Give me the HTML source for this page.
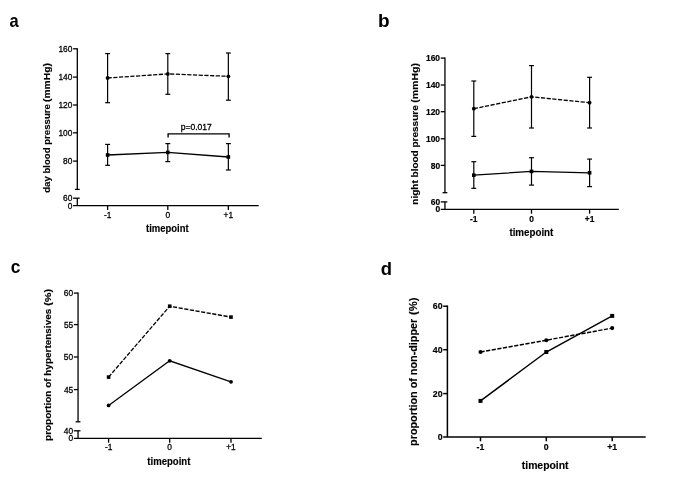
<!DOCTYPE html><html><head><meta charset="utf-8"><style>html,body{margin:0;padding:0;background:#fff}svg{display:block;will-change:transform}</style></head><body>
<svg width="685" height="491" viewBox="0 0 685 491" font-family="Liberation Sans, sans-serif">
<text transform="translate(9.52 27.10) scale(0.9417 1)" font-size="17.5" font-weight="bold" fill="#000">a</text>
<line x1="77.30" y1="48.15" x2="77.30" y2="189.40" stroke="#000" stroke-width="1.3"/>
<line x1="74.90" y1="189.40" x2="79.70" y2="189.40" stroke="#000" stroke-width="1.3"/>
<line x1="77.30" y1="198.20" x2="77.30" y2="205.70" stroke="#000" stroke-width="1.3"/>
<line x1="73.10" y1="198.20" x2="79.70" y2="198.20" stroke="#000" stroke-width="1.3"/>
<line x1="73.10" y1="205.70" x2="258.70" y2="205.70" stroke="#000" stroke-width="1.3"/>
<line x1="73.10" y1="48.80" x2="77.30" y2="48.80" stroke="#000" stroke-width="1.3"/>
<text transform="translate(58.46 52.00) scale(0.8900 1)" font-size="9.4" stroke="#000" stroke-width="0.3" fill="#000">160</text>
<line x1="73.10" y1="77.10" x2="77.30" y2="77.10" stroke="#000" stroke-width="1.3"/>
<text transform="translate(58.46 80.30) scale(0.8900 1)" font-size="9.4" stroke="#000" stroke-width="0.3" fill="#000">140</text>
<line x1="73.10" y1="105.00" x2="77.30" y2="105.00" stroke="#000" stroke-width="1.3"/>
<text transform="translate(58.46 108.20) scale(0.8900 1)" font-size="9.4" stroke="#000" stroke-width="0.3" fill="#000">120</text>
<line x1="73.10" y1="132.80" x2="77.30" y2="132.80" stroke="#000" stroke-width="1.3"/>
<text transform="translate(58.46 136.00) scale(0.8900 1)" font-size="9.4" stroke="#000" stroke-width="0.3" fill="#000">100</text>
<line x1="73.10" y1="161.10" x2="77.30" y2="161.10" stroke="#000" stroke-width="1.3"/>
<text transform="translate(63.11 164.30) scale(0.8900 1)" font-size="9.4" stroke="#000" stroke-width="0.3" fill="#000">80</text>
<text transform="translate(63.11 201.00) scale(0.8900 1)" font-size="9.4" stroke="#000" stroke-width="0.3" fill="#000">60</text>
<text transform="translate(67.77 208.70) scale(0.8900 1)" font-size="9.4" stroke="#000" stroke-width="0.3" fill="#000">0</text>
<line x1="107.60" y1="205.70" x2="107.60" y2="210.00" stroke="#000" stroke-width="1.3"/>
<text transform="translate(103.88 217.60) scale(0.8900 1)" font-size="9.4" stroke="#000" stroke-width="0.3" fill="#000">-1</text>
<line x1="167.80" y1="205.70" x2="167.80" y2="210.00" stroke="#000" stroke-width="1.3"/>
<text transform="translate(165.47 217.60) scale(0.8900 1)" font-size="9.4" stroke="#000" stroke-width="0.3" fill="#000">0</text>
<line x1="228.35" y1="205.70" x2="228.35" y2="210.00" stroke="#000" stroke-width="1.3"/>
<text transform="translate(223.58 217.60) scale(0.8900 1)" font-size="9.4" stroke="#000" stroke-width="0.3" fill="#000">+1</text>
<text transform="translate(50.40 192.79) rotate(-90) scale(0.9716 1)" font-size="9.9" font-weight="bold" stroke="#000" stroke-width="0.15" fill="#000">day blood pressure</text>
<text transform="translate(50.40 102.00) rotate(-90) scale(1.0406 1)" font-size="9.9" font-weight="bold" stroke="#000" stroke-width="0.15" fill="#000">(mmHg)</text>
<text transform="translate(145.99 231.70) scale(0.9495 1)" font-size="10" font-weight="bold" stroke="#000" stroke-width="0.15" fill="#000">timepoint</text>
<line x1="107.60" y1="53.60" x2="107.60" y2="102.70" stroke="#000" stroke-width="1.2"/>
<line x1="105.15" y1="53.60" x2="110.05" y2="53.60" stroke="#000" stroke-width="1.2"/>
<line x1="105.15" y1="102.70" x2="110.05" y2="102.70" stroke="#000" stroke-width="1.2"/>
<line x1="167.80" y1="53.60" x2="167.80" y2="94.30" stroke="#000" stroke-width="1.2"/>
<line x1="165.35" y1="53.60" x2="170.25" y2="53.60" stroke="#000" stroke-width="1.2"/>
<line x1="165.35" y1="94.30" x2="170.25" y2="94.30" stroke="#000" stroke-width="1.2"/>
<line x1="228.35" y1="53.00" x2="228.35" y2="100.20" stroke="#000" stroke-width="1.2"/>
<line x1="225.90" y1="53.00" x2="230.80" y2="53.00" stroke="#000" stroke-width="1.2"/>
<line x1="225.90" y1="100.20" x2="230.80" y2="100.20" stroke="#000" stroke-width="1.2"/>
<line x1="107.60" y1="144.40" x2="107.60" y2="165.30" stroke="#000" stroke-width="1.2"/>
<line x1="105.15" y1="144.40" x2="110.05" y2="144.40" stroke="#000" stroke-width="1.2"/>
<line x1="105.15" y1="165.30" x2="110.05" y2="165.30" stroke="#000" stroke-width="1.2"/>
<line x1="167.80" y1="143.60" x2="167.80" y2="161.60" stroke="#000" stroke-width="1.2"/>
<line x1="165.35" y1="143.60" x2="170.25" y2="143.60" stroke="#000" stroke-width="1.2"/>
<line x1="165.35" y1="161.60" x2="170.25" y2="161.60" stroke="#000" stroke-width="1.2"/>
<line x1="228.35" y1="143.60" x2="228.35" y2="170.00" stroke="#000" stroke-width="1.2"/>
<line x1="225.90" y1="143.60" x2="230.80" y2="143.60" stroke="#000" stroke-width="1.2"/>
<line x1="225.90" y1="170.00" x2="230.80" y2="170.00" stroke="#000" stroke-width="1.2"/>
<polyline fill="none" stroke="#000" stroke-width="1.3" stroke-dasharray="4.2 1.5" points="107.60,78.00 167.80,73.90 228.35,76.30"/>
<polyline fill="none" stroke="#000" stroke-width="1.3" points="107.60,155.00 167.80,152.40 228.35,157.00"/>
<circle cx="107.60" cy="78.00" r="1.9" fill="#000"/>
<circle cx="167.80" cy="73.90" r="1.9" fill="#000"/>
<circle cx="228.35" cy="76.30" r="1.9" fill="#000"/>
<rect x="105.80" y="153.20" width="3.6" height="3.6" fill="#000"/>
<rect x="166.00" y="150.60" width="3.6" height="3.6" fill="#000"/>
<rect x="226.55" y="155.20" width="3.6" height="3.6" fill="#000"/>
<polyline fill="none" stroke="#000" stroke-width="1.35" points="168.10,137.40 168.10,133.80 229.10,133.80 229.10,137.40"/>
<text transform="translate(180.75 130.40) scale(0.9204 1)" font-size="9.3" stroke="#000" stroke-width="0.3" fill="#000">p=0.017</text>
<text transform="translate(377.96 27.00) scale(1.0863 1)" font-size="17.5" font-weight="bold" fill="#000">b</text>
<line x1="444.95" y1="57.45" x2="444.95" y2="192.70" stroke="#000" stroke-width="1.3"/>
<line x1="442.55" y1="192.70" x2="447.35" y2="192.70" stroke="#000" stroke-width="1.3"/>
<line x1="444.95" y1="201.90" x2="444.95" y2="209.40" stroke="#000" stroke-width="1.3"/>
<line x1="440.75" y1="201.90" x2="447.35" y2="201.90" stroke="#000" stroke-width="1.3"/>
<line x1="440.75" y1="209.40" x2="618.80" y2="209.40" stroke="#000" stroke-width="1.3"/>
<line x1="440.75" y1="58.10" x2="444.95" y2="58.10" stroke="#000" stroke-width="1.3"/>
<text transform="translate(425.97 61.30) scale(0.9200 1)" font-size="9.2" font-weight="bold" stroke="#000" stroke-width="0.2" fill="#000">160</text>
<line x1="440.75" y1="85.00" x2="444.95" y2="85.00" stroke="#000" stroke-width="1.3"/>
<text transform="translate(425.97 88.20) scale(0.9200 1)" font-size="9.2" font-weight="bold" stroke="#000" stroke-width="0.2" fill="#000">140</text>
<line x1="440.75" y1="111.70" x2="444.95" y2="111.70" stroke="#000" stroke-width="1.3"/>
<text transform="translate(425.97 114.90) scale(0.9200 1)" font-size="9.2" font-weight="bold" stroke="#000" stroke-width="0.2" fill="#000">120</text>
<line x1="440.75" y1="138.80" x2="444.95" y2="138.80" stroke="#000" stroke-width="1.3"/>
<text transform="translate(425.97 142.00) scale(0.9200 1)" font-size="9.2" font-weight="bold" stroke="#000" stroke-width="0.2" fill="#000">100</text>
<line x1="440.75" y1="165.40" x2="444.95" y2="165.40" stroke="#000" stroke-width="1.3"/>
<text transform="translate(430.68 168.60) scale(0.9200 1)" font-size="9.2" font-weight="bold" stroke="#000" stroke-width="0.2" fill="#000">80</text>
<text transform="translate(430.68 204.70) scale(0.9200 1)" font-size="9.2" font-weight="bold" stroke="#000" stroke-width="0.2" fill="#000">60</text>
<text transform="translate(435.38 212.40) scale(0.9200 1)" font-size="9.2" font-weight="bold" stroke="#000" stroke-width="0.2" fill="#000">0</text>
<line x1="473.80" y1="209.40" x2="473.80" y2="213.70" stroke="#000" stroke-width="1.3"/>
<text transform="translate(470.04 221.80) scale(0.9200 1)" font-size="9.2" font-weight="bold" stroke="#000" stroke-width="0.2" fill="#000">-1</text>
<line x1="531.50" y1="209.40" x2="531.50" y2="213.70" stroke="#000" stroke-width="1.3"/>
<text transform="translate(529.15 221.80) scale(0.9200 1)" font-size="9.2" font-weight="bold" stroke="#000" stroke-width="0.2" fill="#000">0</text>
<line x1="589.60" y1="209.40" x2="589.60" y2="213.70" stroke="#000" stroke-width="1.3"/>
<text transform="translate(584.77 221.80) scale(0.9200 1)" font-size="9.2" font-weight="bold" stroke="#000" stroke-width="0.2" fill="#000">+1</text>
<text transform="translate(417.50 204.65) rotate(-90) scale(1.0105 1)" font-size="9.9" font-weight="bold" stroke="#000" stroke-width="0.15" fill="#000">night blood pressure</text>
<text transform="translate(417.50 102.72) rotate(-90) scale(1.0625 1)" font-size="9.9" font-weight="bold" stroke="#000" stroke-width="0.15" fill="#000">(mmHg)</text>
<text transform="translate(509.38 235.90) scale(0.9786 1)" font-size="10" font-weight="bold" stroke="#000" stroke-width="0.15" fill="#000">timepoint</text>
<line x1="473.80" y1="81.00" x2="473.80" y2="136.40" stroke="#000" stroke-width="1.2"/>
<line x1="471.35" y1="81.00" x2="476.25" y2="81.00" stroke="#000" stroke-width="1.2"/>
<line x1="471.35" y1="136.40" x2="476.25" y2="136.40" stroke="#000" stroke-width="1.2"/>
<line x1="531.50" y1="65.60" x2="531.50" y2="128.00" stroke="#000" stroke-width="1.2"/>
<line x1="529.05" y1="65.60" x2="533.95" y2="65.60" stroke="#000" stroke-width="1.2"/>
<line x1="529.05" y1="128.00" x2="533.95" y2="128.00" stroke="#000" stroke-width="1.2"/>
<line x1="589.60" y1="77.30" x2="589.60" y2="128.00" stroke="#000" stroke-width="1.2"/>
<line x1="587.15" y1="77.30" x2="592.05" y2="77.30" stroke="#000" stroke-width="1.2"/>
<line x1="587.15" y1="128.00" x2="592.05" y2="128.00" stroke="#000" stroke-width="1.2"/>
<line x1="473.80" y1="161.70" x2="473.80" y2="188.30" stroke="#000" stroke-width="1.2"/>
<line x1="471.35" y1="161.70" x2="476.25" y2="161.70" stroke="#000" stroke-width="1.2"/>
<line x1="471.35" y1="188.30" x2="476.25" y2="188.30" stroke="#000" stroke-width="1.2"/>
<line x1="531.50" y1="157.70" x2="531.50" y2="185.10" stroke="#000" stroke-width="1.2"/>
<line x1="529.05" y1="157.70" x2="533.95" y2="157.70" stroke="#000" stroke-width="1.2"/>
<line x1="529.05" y1="185.10" x2="533.95" y2="185.10" stroke="#000" stroke-width="1.2"/>
<line x1="589.60" y1="159.10" x2="589.60" y2="186.60" stroke="#000" stroke-width="1.2"/>
<line x1="587.15" y1="159.10" x2="592.05" y2="159.10" stroke="#000" stroke-width="1.2"/>
<line x1="587.15" y1="186.60" x2="592.05" y2="186.60" stroke="#000" stroke-width="1.2"/>
<polyline fill="none" stroke="#000" stroke-width="1.3" stroke-dasharray="4.2 1.5" points="473.80,108.70 531.50,96.80 589.60,102.70"/>
<polyline fill="none" stroke="#000" stroke-width="1.3" points="473.80,175.20 531.50,171.40 589.60,172.80"/>
<circle cx="473.80" cy="108.70" r="1.9" fill="#000"/>
<circle cx="531.50" cy="96.80" r="1.9" fill="#000"/>
<circle cx="589.60" cy="102.70" r="1.9" fill="#000"/>
<rect x="472.00" y="173.40" width="3.6" height="3.6" fill="#000"/>
<rect x="529.70" y="169.60" width="3.6" height="3.6" fill="#000"/>
<rect x="587.80" y="171.00" width="3.6" height="3.6" fill="#000"/>
<text transform="translate(10.82 272.60) scale(0.9953 1)" font-size="17.5" font-weight="bold" fill="#000">c</text>
<line x1="78.05" y1="292.45" x2="78.05" y2="421.80" stroke="#000" stroke-width="1.3"/>
<line x1="75.65" y1="421.80" x2="80.45" y2="421.80" stroke="#000" stroke-width="1.3"/>
<line x1="78.05" y1="430.80" x2="78.05" y2="438.40" stroke="#000" stroke-width="1.3"/>
<line x1="73.85" y1="430.80" x2="80.45" y2="430.80" stroke="#000" stroke-width="1.3"/>
<line x1="73.85" y1="438.40" x2="261.80" y2="438.40" stroke="#000" stroke-width="1.3"/>
<line x1="73.85" y1="293.10" x2="78.05" y2="293.10" stroke="#000" stroke-width="1.3"/>
<text transform="translate(63.86 296.30) scale(0.8900 1)" font-size="9.4" stroke="#000" stroke-width="0.3" fill="#000">60</text>
<line x1="73.85" y1="324.60" x2="78.05" y2="324.60" stroke="#000" stroke-width="1.3"/>
<text transform="translate(63.89 327.80) scale(0.8900 1)" font-size="9.4" stroke="#000" stroke-width="0.3" fill="#000">55</text>
<line x1="73.85" y1="357.00" x2="78.05" y2="357.00" stroke="#000" stroke-width="1.3"/>
<text transform="translate(63.86 360.20) scale(0.8900 1)" font-size="9.4" stroke="#000" stroke-width="0.3" fill="#000">50</text>
<line x1="73.85" y1="389.60" x2="78.05" y2="389.60" stroke="#000" stroke-width="1.3"/>
<text transform="translate(63.89 392.80) scale(0.8900 1)" font-size="9.4" stroke="#000" stroke-width="0.3" fill="#000">45</text>
<text transform="translate(63.86 433.60) scale(0.8900 1)" font-size="9.4" stroke="#000" stroke-width="0.3" fill="#000">40</text>
<text transform="translate(68.52 441.40) scale(0.8900 1)" font-size="9.4" stroke="#000" stroke-width="0.3" fill="#000">0</text>
<line x1="108.60" y1="438.40" x2="108.60" y2="442.70" stroke="#000" stroke-width="1.3"/>
<text transform="translate(104.88 450.30) scale(0.8900 1)" font-size="9.4" stroke="#000" stroke-width="0.3" fill="#000">-1</text>
<line x1="169.70" y1="438.40" x2="169.70" y2="442.70" stroke="#000" stroke-width="1.3"/>
<text transform="translate(167.37 450.30) scale(0.8900 1)" font-size="9.4" stroke="#000" stroke-width="0.3" fill="#000">0</text>
<line x1="231.00" y1="438.40" x2="231.00" y2="442.70" stroke="#000" stroke-width="1.3"/>
<text transform="translate(226.23 450.30) scale(0.8900 1)" font-size="9.4" stroke="#000" stroke-width="0.3" fill="#000">+1</text>
<text transform="translate(50.50 440.95) rotate(-90) scale(1.0067 1)" font-size="9.9" font-weight="bold" stroke="#000" stroke-width="0.15" fill="#000">proportion of hypertensives</text>
<text transform="translate(50.50 305.83) rotate(-90) scale(1.1023 1)" font-size="9.9" font-weight="bold" stroke="#000" stroke-width="0.15" fill="#000">(%)</text>
<text transform="translate(147.28 464.60) scale(0.9584 1)" font-size="10" font-weight="bold" stroke="#000" stroke-width="0.15" fill="#000">timepoint</text>
<polyline fill="none" stroke="#000" stroke-width="1.3" stroke-dasharray="4.2 1.5" points="108.60,377.10 169.70,306.20 231.00,317.10"/>
<polyline fill="none" stroke="#000" stroke-width="1.3" points="108.60,405.40 169.70,360.80 231.00,381.80"/>
<rect x="106.80" y="375.30" width="3.6" height="3.6" fill="#000"/>
<rect x="167.90" y="304.40" width="3.6" height="3.6" fill="#000"/>
<rect x="229.20" y="315.30" width="3.6" height="3.6" fill="#000"/>
<circle cx="108.60" cy="405.40" r="1.9" fill="#000"/>
<circle cx="169.70" cy="360.80" r="1.9" fill="#000"/>
<circle cx="231.00" cy="381.80" r="1.9" fill="#000"/>
<text transform="translate(380.74 275.00) scale(1.0544 1)" font-size="17.5" font-weight="bold" fill="#000">d</text>
<line x1="447.40" y1="305.45" x2="447.40" y2="437.00" stroke="#000" stroke-width="1.5"/>
<line x1="443.20" y1="437.00" x2="645.70" y2="437.00" stroke="#000" stroke-width="1.5"/>
<line x1="443.20" y1="306.20" x2="447.40" y2="306.20" stroke="#000" stroke-width="1.5"/>
<text transform="translate(432.83 309.40) scale(0.9500 1)" font-size="9.2" font-weight="bold" stroke="#000" stroke-width="0.2" fill="#000">60</text>
<line x1="443.20" y1="349.70" x2="447.40" y2="349.70" stroke="#000" stroke-width="1.5"/>
<text transform="translate(432.83 352.90) scale(0.9500 1)" font-size="9.2" font-weight="bold" stroke="#000" stroke-width="0.2" fill="#000">40</text>
<line x1="443.20" y1="393.60" x2="447.40" y2="393.60" stroke="#000" stroke-width="1.5"/>
<text transform="translate(432.83 396.80) scale(0.9500 1)" font-size="9.2" font-weight="bold" stroke="#000" stroke-width="0.2" fill="#000">20</text>
<text transform="translate(437.69 440.00) scale(0.9500 1)" font-size="9.2" font-weight="bold" stroke="#000" stroke-width="0.2" fill="#000">0</text>
<line x1="480.50" y1="437.00" x2="480.50" y2="441.30" stroke="#000" stroke-width="1.5"/>
<text transform="translate(476.61 450.20) scale(0.9500 1)" font-size="9.2" font-weight="bold" stroke="#000" stroke-width="0.2" fill="#000">-1</text>
<line x1="546.30" y1="437.00" x2="546.30" y2="441.30" stroke="#000" stroke-width="1.5"/>
<text transform="translate(543.87 450.20) scale(0.9500 1)" font-size="9.2" font-weight="bold" stroke="#000" stroke-width="0.2" fill="#000">0</text>
<line x1="612.20" y1="437.00" x2="612.20" y2="441.30" stroke="#000" stroke-width="1.5"/>
<text transform="translate(607.22 450.20) scale(0.9500 1)" font-size="9.2" font-weight="bold" stroke="#000" stroke-width="0.2" fill="#000">+1</text>
<text transform="translate(417.40 445.90) rotate(-90) scale(1.0301 1)" font-size="10.5" font-weight="bold" stroke="#000" stroke-width="0.15" fill="#000">proportion of non-dipper</text>
<text transform="translate(417.40 315.00) rotate(-90) scale(1.0622 1)" font-size="10.5" font-weight="bold" stroke="#000" stroke-width="0.15" fill="#000">(%)</text>
<text transform="translate(521.78 469.00) scale(0.9915 1)" font-size="10.5" font-weight="bold" stroke="#000" stroke-width="0.15" fill="#000">timepoint</text>
<polyline fill="none" stroke="#000" stroke-width="1.45" stroke-dasharray="4.2 1.5" points="480.50,352.00 546.30,340.20 612.20,328.10"/>
<polyline fill="none" stroke="#000" stroke-width="1.45" points="480.50,400.90 546.30,352.00 612.20,315.90"/>
<circle cx="480.50" cy="352.00" r="2.05" fill="#000"/>
<circle cx="546.30" cy="340.20" r="2.05" fill="#000"/>
<circle cx="612.20" cy="328.10" r="2.05" fill="#000"/>
<rect x="478.50" y="398.90" width="4.0" height="4.0" fill="#000"/>
<rect x="544.30" y="350.00" width="4.0" height="4.0" fill="#000"/>
<rect x="610.20" y="313.90" width="4.0" height="4.0" fill="#000"/>
</svg></body></html>
